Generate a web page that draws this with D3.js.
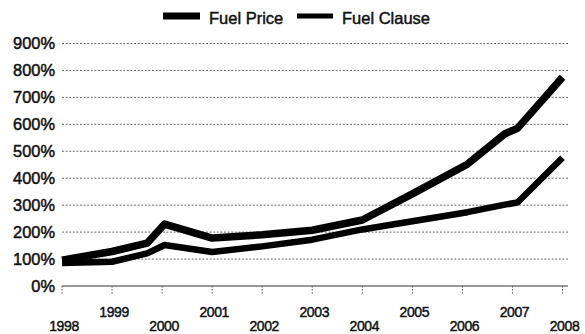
<!DOCTYPE html>
<html>
<head>
<meta charset="utf-8">
<script src="https://cdn.jsdelivr.net/npm/d3@7"></script>
<style>
  html, body { margin: 0; padding: 0; background: #fff; }
  svg { display: block; font-family: "Liberation Sans", Arial, sans-serif; }
</style>
</head>
<body>
<svg id="chart" width="585" height="334"></svg>
<script>
// Observation times (fractional years) shared by both series
const times = [1998, 1999, 1999.7, 2000.05, 2001, 2002, 2003, 2004, 2005, 2006.1, 2006.85, 2007.1, 2008];
// Index values, percent of base
const fuelPrice  = [96, 128, 159, 230, 178, 190, 207, 245, 342, 452, 565, 585, 775];
const fuelClause = [85, 90, 121, 152, 126, 147, 172, 210, 240, 274, 302, 310, 476];
const seriesNames = ["Fuel Price", "Fuel Clause"];
const yearTicks = [1998, 1999, 2000, 2001, 2002, 2003, 2004, 2005, 2006, 2007, 2008];
const yTicks = [0, 100, 200, 300, 400, 500, 600, 700, 800, 900];

const svg = d3.select("#chart");
const x = d3.scaleLinear().domain([1998, 2008]).range([62, 562.5]);
const y = d3.scaleLinear().domain([0, 900]).range([286, 43.5]);
const plotRight = 568;

// horizontal gridlines
svg.append("g").selectAll("line")
  .data(yTicks.filter(d => d > 0))
  .join("line")
  .attr("x1", x(1998)).attr("x2", plotRight)
  .attr("y1", d => y(d)).attr("y2", d => y(d))
  .attr("stroke", "#6a6a6a")
  .attr("stroke-width", 1)
  .attr("stroke-dasharray", "2,1.6");

// y axis labels
svg.append("g").selectAll("text")
  .data(yTicks)
  .join("text")
  .attr("x", 55)
  .attr("y", d => y(d))
  .attr("dy", "0.36em")
  .attr("text-anchor", "end")
  .attr("font-size", 16.4)
  .attr("fill", "#111")
  .attr("stroke", "#111").attr("stroke-width", 0.5)
  .text(d => d + "%");

// baseline and year ticks
svg.append("line")
  .attr("x1", x(1998)).attr("x2", plotRight)
  .attr("y1", y(0)).attr("y2", y(0))
  .attr("stroke", "#333").attr("stroke-width", 1.2);

svg.append("g").selectAll("line")
  .data(yearTicks)
  .join("line")
  .attr("x1", d => x(d)).attr("x2", d => x(d))
  .attr("y1", y(0)).attr("y2", y(0) + 9)
  .attr("stroke", "#555").attr("stroke-width", 1)
  .attr("stroke-dasharray", "1.5,1.5");

// staggered year labels
svg.append("g").selectAll("text")
  .data(yearTicks)
  .join("text")
  .attr("x", d => x(d) + 2)
  .attr("y", (d, i) => i % 2 === 0 ? 331 : 317)
  .attr("text-anchor", "middle")
  .attr("font-size", 14)
  .attr("letter-spacing", -0.4)
  .attr("fill", "#111")
  .attr("stroke", "#111").attr("stroke-width", 0.45)
  .text(d => d);

// series lines
const line = d3.line()
  .x(d => x(d[0]))
  .y(d => y(d[1]));

const series = [
  { name: seriesNames[0], values: fuelPrice, width: 7.5 },
  { name: seriesNames[1], values: fuelClause, width: 6.5 }
];

svg.append("g").selectAll("path")
  .data(series)
  .join("path")
  .attr("d", s => line(times.map((t, i) => [t, s.values[i]])))
  .attr("fill", "none")
  .attr("stroke", "#000")
  .attr("stroke-width", s => s.width)
  .attr("stroke-linejoin", "round")
  .attr("stroke-linecap", "butt");

// legend
const legend = svg.append("g");
const legendItems = [
  { name: seriesNames[0], x0: 163, x1: 200, tx: 209, w: 7 },
  { name: seriesNames[1], x0: 297, x1: 333, tx: 342, w: 5 }
];
legend.selectAll("line")
  .data(legendItems)
  .join("line")
  .attr("x1", d => d.x0).attr("x2", d => d.x1)
  .attr("y1", 16).attr("y2", 16)
  .attr("stroke", "#000")
  .attr("stroke-width", d => d.w);
legend.selectAll("text")
  .data(legendItems)
  .join("text")
  .attr("x", d => d.tx)
  .attr("y", 24)
  .attr("font-size", 16.5)
  .attr("fill", "#111")
  .attr("stroke", "#111").attr("stroke-width", 0.45)
  .text(d => d.name);
</script>
</body>
</html>
